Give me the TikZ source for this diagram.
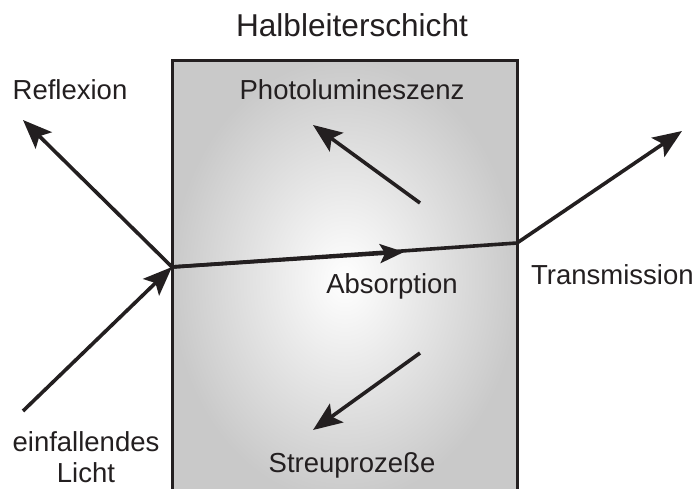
\documentclass[tikz,border=0pt]{standalone}
\usepackage{fontspec}
\setmainfont{Liberation Sans}
\usetikzlibrary{arrows.meta}
\definecolor{ink}{HTML}{231F20}
\tikzset{
  ray/.style={draw=ink,line width=3.6pt,-{Stealth[length=29pt,width=23pt,inset=6pt]}},
  midray/.style={draw=ink,line width=3.6pt,-{Stealth[length=24pt,width=19pt,inset=5pt]}},
  plain/.style={draw=ink,line width=3.6pt},
  lbl/.style={inner sep=0pt,anchor=base,text=ink,font=\fontsize{27.5}{31}\selectfont},
  ttl/.style={inner sep=0pt,anchor=base,text=ink,font=\fontsize{31.6}{36}\selectfont},
}
\begin{document}
\begin{tikzpicture}[x=1pt,y=-1pt]
\useasboundingbox (0,0) rectangle (694,488);
\clip (0,0) rectangle (694,488);
\fill[white] (0,0) rectangle (694,488);
% semiconductor layer
\shade[inner color=white,outer color=black!21] (172,60) rectangle (517,500);
\draw[ink,line width=3pt] (172,500) -- (172,60) -- (517,60) -- (517,500);
% coordinates
\coordinate (in) at (23,411);
\coordinate (hit) at (172,267);
\coordinate (refl) at (23,120);
\coordinate (mid) at (404,252);
\coordinate (exit) at (517,243);
\coordinate (trans) at (682,131);
\coordinate (pls) at (420,203);
\coordinate (plt) at (313,125);
\coordinate (ss) at (420,353);
\coordinate (st) at (313,430);
% rays
\draw[ray] (in) -- (hit);
\draw[ray] (hit) -- (refl);
\draw[plain] (hit) -- (exit);
\draw[midray] (hit) -- (mid);
\draw[ray] (exit) -- (trans);
\draw[ray] (pls) -- (plt);
\draw[ray] (ss) -- (st);
% labels
\node[ttl] (title) at (352,36) {Halbleiterschicht};
\node[lbl] (pl) at (352,99) {Photolumineszenz};
\node[lbl] (abs) at (392,293) {Absorption};
\node[lbl] (str) at (352,472) {Streuprozeße};
\node[lbl] (ref) at (70,99) {Reflexion};
\node[lbl,anchor=base west] (tra) at (531,284) {Transmission};
\node[lbl] (ein) at (86,451) {einfallendes};
\node[lbl] (li) at (86,482) {Licht};
\end{tikzpicture}
\end{document}
